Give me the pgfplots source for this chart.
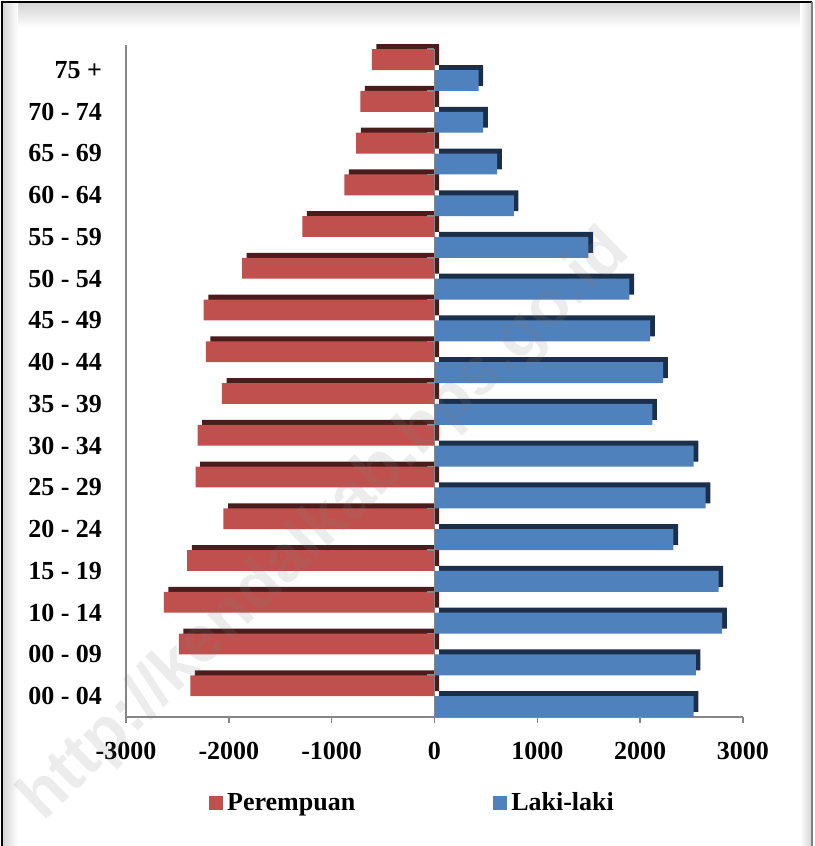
\documentclass[border=0pt]{standalone}
\usepackage{pgfplots}
\pgfplotsset{compat=1.18}
\usepackage{fontspec}
\setmainfont{Liberation Serif}
\newfontfamily\wmfont{Liberation Sans}
\definecolor{redc}{HTML}{C0504D}
\definecolor{redd}{HTML}{4A1C1B}
\definecolor{bluec}{HTML}{4F81BD}
\definecolor{blued}{HTML}{1C2F4A}
\definecolor{axgray}{HTML}{868686}
\begin{document}
\begin{tikzpicture}
\useasboundingbox (0pt,0pt) rectangle (407pt,423pt);
% frame background with bevel
\fill[white] (0pt,0pt) rectangle (407pt,423pt);
\shade[top color=gray!35, bottom color=white] (1pt,409pt) rectangle (406pt,422pt);
\shade[left color=gray!35, right color=white] (1pt,0pt) rectangle (9pt,422pt);
\shade[right color=gray!35, left color=white] (400pt,0pt) rectangle (406pt,422pt);
\begin{axis}[
  at={(63pt,64.5pt)}, anchor=south west,
  scale only axis, width=308.5pt, height=336pt,
  xmin=-3000, xmax=3000, ymin=-0.5, ymax=15.6,
  axis x line*=bottom, axis y line*=left,
  axis line style={axgray, line width=0.8pt},
  xtick={-3000,-2000,-1000,0,1000,2000,3000},
  xticklabels={-3000,-2000,-1000,0,1000,2000,3000},
  xtick style={axgray, line width=0.8pt},
  tick align=outside, major tick length=3pt,
  ytick={0,...,15},
  yticklabels={00 - 04,00 - 09,10 - 14,15 - 19,20 - 24,25 - 29,30 - 34,35 - 39,40 - 44,45 - 49,50 - 54,55 - 59,60 - 64,65 - 69,70 - 74,75 +},
  ytick style={draw=none},
  yticklabel style={xshift=-5.5pt},
  xticklabel style={yshift=-6pt},
  tick label style={font=\fontsize{13}{15}\selectfont\bfseries},
  xbar, bar width=0.5,
  clip=false,
  legend columns=2,
  legend style={draw=none, fill=none, at={(0.466,-0.128)}, anchor=center,
    font=\fontsize{13}{15}\selectfont\bfseries,
    /tikz/every even column/.append style={column sep=67pt}},
]
% depth (3D) copies
\addplot[xbar, bar width=0.5, bar shift=0.25, fill=redd, draw=none, xshift=2.3pt, yshift=2.5pt, forget plot] coordinates {
(-2375,0) (-2486,1) (-2632,2) (-2405,3) (-2052,4) (-2324,5) (-2304,6) (-2067,7)
(-2224,8) (-2244,9) (-1871,10) (-1286,11) (-877,12) (-761,13) (-721,14) (-610,15)};
\addplot[xbar, bar width=0.5, bar shift=-0.25, fill=blued, draw=none, xshift=2.3pt, yshift=2.5pt, forget plot] coordinates {
(2521,0) (2541,1) (2798,2) (2763,3) (2324,4) (2637,5) (2521,6) (2118,7)
(2224,8) (2098,9) (1896,10) (1497,11) (771,12) (610,13) (474,14) (429,15)};
% front faces
\addplot[xbar, bar width=0.5, bar shift=0.25, fill=redc, draw=none,
  legend image code/.code={\fill[redc] (0pt,-3.5pt) rectangle (7pt,3.5pt);}] coordinates {
(-2375,0) (-2486,1) (-2632,2) (-2405,3) (-2052,4) (-2324,5) (-2304,6) (-2067,7)
(-2224,8) (-2244,9) (-1871,10) (-1286,11) (-877,12) (-761,13) (-721,14) (-610,15)};
\addlegendentry{Perempuan}
\addplot[xbar, bar width=0.5, bar shift=-0.25, fill=bluec, draw=none,
  legend image code/.code={\fill[bluec] (0pt,-3.5pt) rectangle (7pt,3.5pt);}] coordinates {
(2521,0) (2541,1) (2798,2) (2763,3) (2324,4) (2637,5) (2521,6) (2118,7)
(2224,8) (2098,9) (1896,10) (1497,11) (771,12) (610,13) (474,14) (429,15)};
\addlegendentry{Laki-laki}
% category axis at zero
\addplot[sharp plot, axgray, line width=0.8pt, forget plot] coordinates {(0,-0.5) (0,15.5)};
\addplot[xcomb, axgray, line width=0.8pt, forget plot] coordinates {
(-75,-0.5) (-75,0.5) (-75,1.5) (-75,2.5) (-75,3.5) (-75,4.5) (-75,5.5) (-75,6.5) (-75,7.5)
(-75,8.5) (-75,9.5) (-75,10.5) (-75,11.5) (-75,12.5) (-75,13.5) (-75,14.5) (-75,15.5)};
\end{axis}
\begin{scope}
\clip (1pt,0pt) rectangle (406pt,422pt);
\node[rotate=44, text=gray, opacity=0.15, font=\fontsize{33}{33}\selectfont\bfseries\wmfont] at (163pt,160pt) {http://kendalkab.bps.go.id};
\end{scope}
% outer border
\draw[black, line width=1.2pt] (1pt,0pt) -- (1pt,422pt) -- (406pt,422pt);
\draw[gray, line width=0.8pt] (406pt,422pt) -- (406pt,0pt);
\end{tikzpicture}
\end{document}
